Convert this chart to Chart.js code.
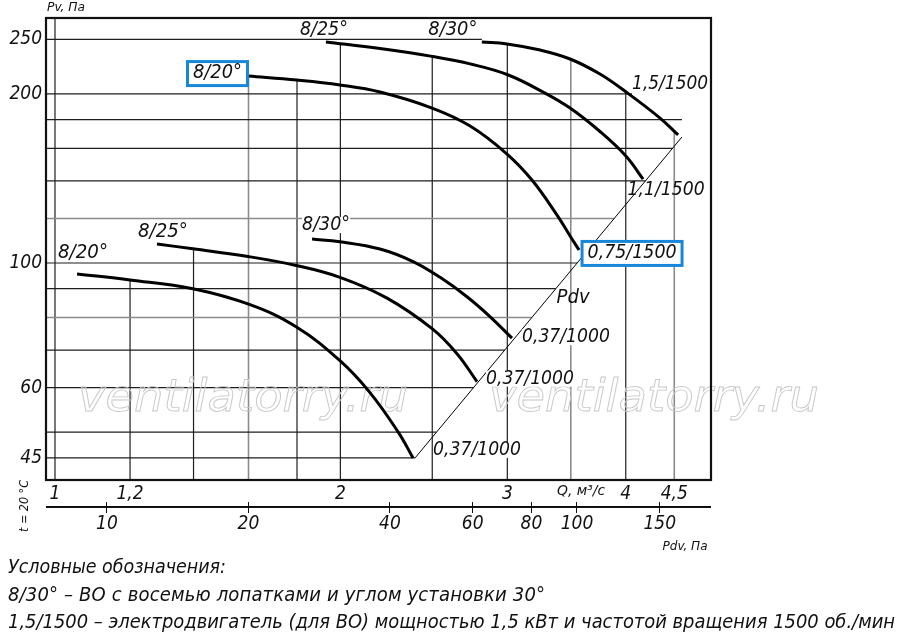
<!DOCTYPE html>
<html>
<head>
<meta charset="utf-8">
<script src="https://cdn.jsdelivr.net/npm/chart.js@4"></script>
<style>
  html, body { margin: 0; padding: 0; background: #fff; }
</style>
</head>
<body>
<canvas id="fanChart" width="900" height="638"></canvas>
<script>
// Q, м³/с and Pv, Па
const q20_1500 = [1.600, 1.800, 1.998, 2.202, 2.499, 2.741, 2.998, 3.185, 3.385, 3.494, 3.571];
const pv20_1500 = [215.1, 211.6, 207.4, 201.5, 188.7, 175.3, 156.3, 140.5, 121.7, 111.7, 105.5];
const q25_1500 = [1.931, 2.202, 2.499, 2.741, 2.998, 3.272, 3.494, 3.757, 4.003, 4.172];
const pv25_1500 = [247.4, 240.8, 233.2, 226.1, 216.5, 201.5, 188.7, 171.4, 154.9, 141.0];
const q30_1500 = [2.820, 2.998, 3.249, 3.494, 3.757, 4.003, 4.347, 4.542];
const pv30_1500 = [247.4, 245.4, 239.3, 230.7, 216.9, 201.5, 181.1, 169.0];

const q20_1000 = [1.055, 1.200, 1.398, 1.606, 1.796, 1.998, 2.149, 2.300, 2.386];
const pv20_1000 = [95.6, 93.3, 90.0, 84.3, 77.0, 67.0, 58.8, 50.1, 45.0];
const q25_1000 = [1.281, 1.398, 1.598, 1.796, 1.998, 2.240, 2.499, 2.656, 2.787];
const pv25_1000 = [108.1, 106.0, 102.7, 99.0, 94.3, 86.6, 76.4, 68.9, 61.5];
const q30_1000 = [1.867, 1.998, 2.202, 2.386, 2.548, 2.720, 2.876, 3.034];
const pv30_1000 = [110.3, 109.1, 105.9, 100.6, 94.3, 87.1, 80.3, 73.5];

// dynamic pressure line Pdv
const pdvQ = [2.398, 4.585];
const pdvPv = [45.0, 167.6];

const qTicks = [1, 1.2, 1.4, 1.6, 1.8, 2, 2.5, 3, 3.5, 4, 4.5];
const qLabels = ['1', '1,2', '', '', '', '2', '', '3', '', '4', '4,5'];
const pvTicks = [45, 50, 60, 70, 80, 90, 100, 120, 140, 160, 180, 200, 250];
const pvLabels = ['45', '', '60', '', '', '', '100', '', '', '', '', '200', '250'];
const pdvTicks = [10, 20, 40, 60, 80, 100, 150];
const pdvLabels = ['10', '20', '40', '60', '80', '100', '150'];

const curves = [
  { blade: '8/20°', motor: '0,75/1500', q: q20_1500, pv: pv20_1500 },
  { blade: '8/25°', motor: '1,1/1500', q: q25_1500, pv: pv25_1500 },
  { blade: '8/30°', motor: '1,5/1500', q: q30_1500, pv: pv30_1500 },
  { blade: '8/20°', motor: '0,37/1000', q: q20_1000, pv: pv20_1000 },
  { blade: '8/25°', motor: '0,37/1000', q: q25_1000, pv: pv25_1000 },
  { blade: '8/30°', motor: '0,37/1000', q: q30_1000, pv: pv30_1000 }
];

const FONT = "'DejaVu Sans Condensed', 'Liberation Sans Narrow', 'Roboto Condensed', 'Liberation Sans', sans-serif";
const BLUE = '#1788d8';

// where the curve captions sit, relative to the curve's first or last point (px)
const notes = [
  { c: 0, at: 'start', text: curves[0].blade, dx: -31, dy: -3, w: 49, box: true },
  { c: 1, at: 'start', text: curves[1].blade, dx: -2, dy: -12, w: 48 },
  { c: 2, at: 'start', text: curves[2].blade, dx: -29, dy: -12, w: 49 },
  { c: 3, at: 'start', text: curves[3].blade, dx: 6, dy: -21, w: 50 },
  { c: 4, at: 'start', text: curves[4].blade, dx: 6, dy: -12, w: 50 },
  { c: 5, at: 'start', text: curves[5].blade, dx: 14, dy: -14, w: 48 },
  { c: 0, at: 'end', text: curves[0].motor, dx: 53, dy: 3, w: 89, box: true },
  { c: 1, at: 'end', text: curves[1].motor, dx: 23, dy: 11, w: 77, keep: true },
  { c: 2, at: 'end', text: curves[2].motor, dx: -8, dy: -51, w: 76, low: 11 },
  { c: 3, at: 'end', text: curves[3].motor, dx: 64, dy: -8, w: 88 },
  { c: 4, at: 'end', text: curves[4].motor, dx: 53, dy: -3, w: 88 },
  { c: 5, at: 'end', text: curves[5].motor, dx: 54, dy: -1, w: 88 },
  { c: 6, at: 'start', text: 'Pdv', dx: 158, dy: -160, w: 33, size: 20, keep: true }
];

const legendLines = [
  'Условные обозначения:',
  '8/30° – ВО с восемью лопатками и углом установки 30°',
  '1,5/1500 – электродвигатель (для ВО) мощностью 1,5 кВт и частотой вращения 1500 об./мин'
];

const greyQ = [1.6, 3.5, 4.5];
const greyPv = [80, 120];

function fitText(ctx, text, x, y, w, size, opts) {
  opts = opts || {};
  ctx.save();
  ctx.font = 'italic ' + size + 'px ' + FONT;
  ctx.textBaseline = opts.baseline || 'middle';
  ctx.textAlign = 'left';
  ctx.fillStyle = opts.color || '#111';
  const w0 = ctx.measureText(text).width;
  const left = opts.left ? x : x - w / 2;
  if (opts.spread && w0 < w) {
    ctx.letterSpacing = ((w - w0) / (text.length - 1)) + 'px';
    ctx.fillText(text, left, y);
  } else {
    ctx.translate(left, y);
    ctx.scale(w / w0, 1);
    ctx.fillText(text, 0, 0);
  }
  ctx.restore();
}

function pointsOf(chart, i) {
  return chart.getDatasetMeta(i).data.map(p => ({ x: p.x, y: p.y }));
}

const clippedGrid = {
  id: 'clippedGrid',
  beforeDatasetsDraw(chart) {
    const { ctx, chartArea: a, scales } = chart;
    const lines = curves.map((c, i) => pointsOf(chart, i));
    const pdv = pointsOf(chart, curves.length);
    const p1 = pdv[0], p2 = pdv[pdv.length - 1];

    // vertical lines start under the highest curve
    const topAt = X => {
      let top = null;
      lines.forEach(pts => {
        if (X < pts[0].x - 4 || X > pts[pts.length - 1].x + 4) return;
        let Y = X <= pts[0].x ? pts[0].y : pts[pts.length - 1].y;
        for (let k = 1; k < pts.length; k++) {
          if (X >= pts[k - 1].x && X <= pts[k].x) {
            const t = (X - pts[k - 1].x) / (pts[k].x - pts[k - 1].x);
            Y = pts[k - 1].y + t * (pts[k].y - pts[k - 1].y);
            break;
          }
        }
        top = top === null ? Y : Math.min(top, Y);
      });
      return top === null ? a.top : top;
    };

    ctx.save();
    qTicks.forEach(q => {
      const X = scales.x.getPixelForValue(q);
      const grey = greyQ.includes(q);
      ctx.strokeStyle = grey ? '#8c8c8c' : '#1e1e1e';
      ctx.lineWidth = grey ? 1.6 : 1.2;
      ctx.beginPath();
      ctx.moveTo(X, topAt(X));
      ctx.lineTo(X, a.bottom);
      ctx.stroke();
    });
    // horizontal lines stop at the Pdv line
    const starts = lines.map(p => p[0]);
    pvTicks.forEach(v => {
      const Y = scales.y.getPixelForValue(v);
      let xe = p1.x + (Y - p1.y) * (p2.x - p1.x) / (p2.y - p1.y);
      if (Y < p2.y) xe = p2.x;
      if (starts.every(s => Y < s.y)) xe = Math.max(...starts.map(s => s.x));
      xe = Math.min(a.right, Math.max(a.left, xe));
      const grey = greyPv.includes(v);
      ctx.strokeStyle = grey ? '#8c8c8c' : '#1e1e1e';
      ctx.lineWidth = grey ? 1.6 : 1.2;
      ctx.beginPath();
      ctx.moveTo(a.left, Y);
      ctx.lineTo(xe, Y);
      ctx.stroke();
    });

    // site watermark
    ctx.strokeStyle = '#c8c8c8';
    ctx.lineWidth = 0.9;
    ctx.font = 'italic 44px "DejaVu Sans", sans-serif';
    ctx.textBaseline = 'alphabetic';
    const wm = 'ventilatorry.ru';
    const ww = ctx.measureText(wm).width;
    [78, 489].forEach(x0 => {
      ctx.save();
      ctx.translate(x0, 411);
      ctx.scale(330 / ww, 1);
      ctx.strokeText(wm, 0, 0);
      ctx.restore();
    });
    ctx.restore();
  }
};

const overlay = {
  id: 'overlay',
  afterDatasetsDraw(chart) {
    const { ctx, chartArea: a } = chart;

    notes.forEach(n => {
      const pts = pointsOf(chart, n.c);
      const p = n.at === 'start' ? pts[0] : pts[pts.length - 1];
      const cx = p.x + n.dx, cy = p.y + n.dy;
      if (!n.keep) {
        ctx.fillStyle = '#fff';
        ctx.fillRect(cx - n.w / 2, cy - 8, n.w, 8 + (n.low || 8));
      }
      if (n.box) {
        ctx.fillStyle = '#fff';
        ctx.fillRect(cx - n.w / 2 - 5.5, cy - 11.5, n.w + 11, 24);
        ctx.strokeStyle = BLUE;
        ctx.lineWidth = 3;
        ctx.strokeRect(cx - n.w / 2 - 5.5, cy - 11.5, n.w + 11, 24);
      }
      fitText(ctx, n.text, cx, cy, n.w, n.size || 19);
    });

    // frame
    ctx.save();
    ctx.strokeStyle = '#111';
    ctx.lineWidth = 2.2;
    ctx.strokeRect(a.left, a.top, a.right - a.left, a.bottom - a.top);
    // Pdv scale rule
    const pdvScale = chart.scales.pdv;
    ctx.lineWidth = 2;
    ctx.beginPath();
    ctx.moveTo(a.left, pdvScale.top + 5);
    ctx.lineTo(a.right, pdvScale.top + 5);
    ctx.stroke();
    ctx.restore();

    fitText(ctx, 'Pv, Па', 66, 8, 38, 13);
    fitText(ctx, 'Q, м³/с', 581, 491, 48, 14);
    fitText(ctx, 'Pdv, Па', 685, 547, 45, 13);

    ctx.save();
    ctx.translate(25, 506);
    ctx.rotate(-Math.PI / 2);
    fitText(ctx, 't = 20 °C', 0, 0, 52, 13);
    ctx.restore();

    const widths = [218, 537, 887];
    const bases = [573, 601, 628];
    legendLines.forEach((t, i) => {
      fitText(ctx, t, 8, bases[i], widths[i], 20, { left: true, spread: true, baseline: 'alphabetic' });
    });
  }
};

const tickFont = { family: FONT, size: 19, style: 'italic' };

new Chart(document.getElementById('fanChart'), {
  type: 'line',
  data: {
    datasets: curves.map(c => ({
      label: c.blade + ' ' + c.motor,
      data: c.q.map((v, i) => ({ x: v, y: c.pv[i] })),
      xAxisID: 'x',
      yAxisID: 'y',
      borderColor: '#000',
      borderWidth: 3,
      pointRadius: 0,
      tension: 0.4,
      fill: false
    })).concat([{
      label: 'Pdv',
      data: pdvQ.map((v, i) => ({ x: v, y: pdvPv[i] })),
      xAxisID: 'x',
      yAxisID: 'y',
      borderColor: '#000',
      borderWidth: 1,
      pointRadius: 0,
      fill: false
    }])
  },
  options: {
    responsive: false,
    animation: false,
    events: [],
    layout: { padding: { left: 0, top: 18, right: 189, bottom: 100 } },
    plugins: { legend: { display: false }, tooltip: { enabled: false } },
    scales: {
      x: {
        type: 'logarithmic',
        axis: 'x',
        position: 'bottom',
        weight: 0,
        min: 0.9784,
        max: 4.92,
        bounds: 'data',
        afterBuildTicks: s => { s.ticks = qTicks.map(v => ({ value: v })); },
        afterFit: s => { s.height = 22; },
        grid: { display: false, drawTicks: false },
        border: { display: false },
        ticks: {
          autoSkip: false, maxRotation: 0, padding: 3, color: '#111', font: tickFont,
          callback: (v, i) => qLabels[i]
        }
      },
      pdv: {
        type: 'logarithmic',
        axis: 'x',
        position: 'bottom',
        weight: 1,
        min: 7.42,
        max: 192.8,
        bounds: 'data',
        afterBuildTicks: s => { s.ticks = pdvTicks.map(v => ({ value: v })); },
        afterFit: s => { s.height = 36; },
        grid: { display: true, drawOnChartArea: false, drawTicks: true, tickLength: 11, color: '#111', lineWidth: 1 },
        border: { display: false },
        ticks: {
          autoSkip: false, maxRotation: 0, padding: 0, color: '#111', font: tickFont,
          callback: (v, i) => pdvLabels[i]
        }
      },
      y: {
        type: 'logarithmic',
        position: 'left',
        min: 41.1,
        max: 272.9,
        bounds: 'data',
        afterBuildTicks: s => { s.ticks = pvTicks.map(v => ({ value: v })); },
        afterFit: s => { s.width = 46; },
        grid: { display: false, drawTicks: false },
        border: { display: false },
        ticks: {
          autoSkip: false, padding: 4, color: '#111', font: tickFont,
          callback: (v, i) => pvLabels[i]
        }
      }
    }
  },
  plugins: [clippedGrid, overlay]
});
</script>
</body>
</html>
